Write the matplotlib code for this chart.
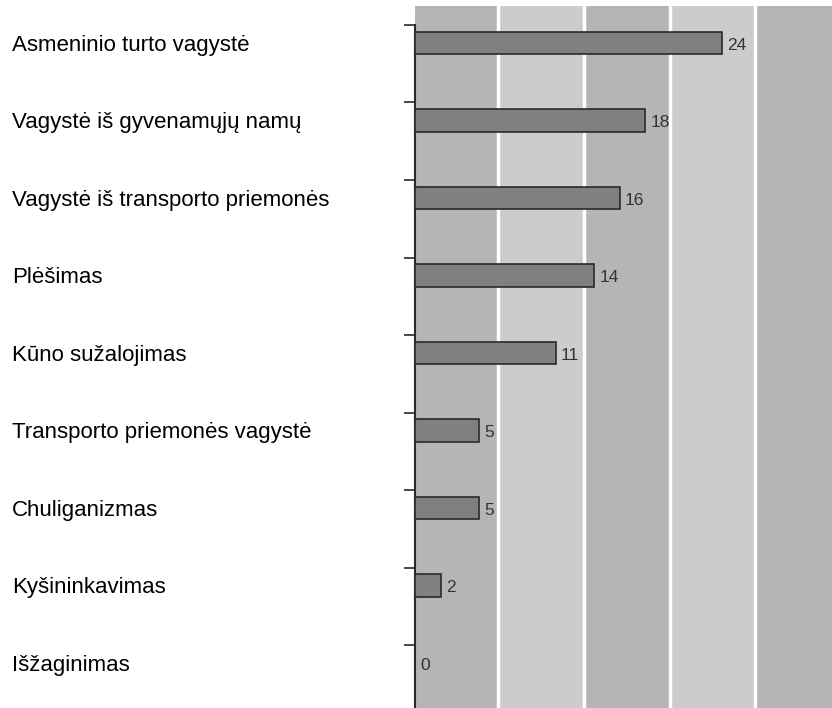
import matplotlib.pyplot as plt
import matplotlib.transforms as mtransforms
import numpy as np

plt.rcParams['font.family'] = ['Liberation Sans', 'DejaVu Sans']

# Duomenys
categories = ['Asmeninio turto vagystė', 'Vagystė iš gyvenamųjų namų',
              'Vagystė iš transporto priemonės', 'Plėšimas', 'Kūno sužalojimas',
              'Transporto priemonės vagystė', 'Chuliganizmas', 'Kyšininkavimas',
              'Išžaginimas']
values = [24, 18, 16, 14, 11, 5, 5, 2, 0]

fig = plt.figure(figsize=(8.32, 7.08), dpi=100)
ax = fig.add_axes([415 / 832, 0, 1 - 415 / 832, 702 / 708])

y = np.arange(len(categories))

# fono juostos
edges = [0, 6.5, 13.2, 19.9, 26.6, 33.3]
band_colors = ['#b5b5b5', '#cccccc']
for k in range(len(edges) - 1):
    ax.axvspan(edges[k], edges[k + 1], color=band_colors[k % 2], zorder=0, lw=0)
for e in edges[1:-1]:
    ax.axvline(e, color='white', lw=2.5, zorder=1)

ax.barh(y, values, height=0.285, color='#808080', edgecolor='#2a2a2a',
        linewidth=1.2, zorder=3)

for yi, v in zip(y, values):
    ax.text(v + 0.4, yi + 0.085, str(v), va='baseline', ha='left', fontsize=12.5,
            color='#333333', zorder=4)

trans = mtransforms.blended_transform_factory(fig.transFigure, ax.transData)
for yi, c in zip(y, categories):
    ax.text(12 / 832, yi + 0.1, c, transform=trans, ha='left', va='baseline',
            fontsize=16, color='black')

ax.set_xlim(0, 32.6)
ax.set_ylim(8.58, -0.477)

ax.set_xticks([])
ax.set_yticks(y - 0.232)
ax.set_yticklabels([])
ax.tick_params(axis='y', direction='out', length=8, width=1.2, color='#2a2a2a')

for s in ['top', 'right', 'bottom']:
    ax.spines[s].set_visible(False)
ax.spines['left'].set_bounds(-0.232, 8.58)
ax.spines['left'].set_linewidth(1.5)
ax.spines['left'].set_color('#2a2a2a')

fig.savefig('out.png', dpi=100)
